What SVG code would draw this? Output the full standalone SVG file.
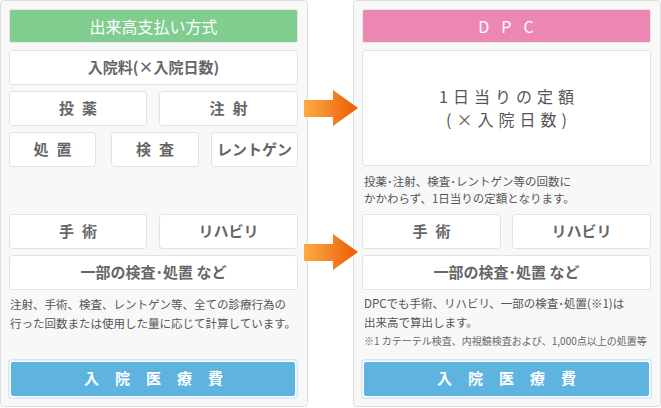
<svg xmlns="http://www.w3.org/2000/svg" width="661" height="408" viewBox="0 0 661 408">
<defs>
<linearGradient id="ag" x1="0" y1="0" x2="1" y2="0">
<stop offset="0" stop-color="#fbab45"/>
<stop offset="1" stop-color="#ee5a05"/>
</linearGradient>
<style>
.panel{fill:#f8f8f8;stroke:#dedede;stroke-width:1}
.box{fill:#fff;stroke:#e2e2e2;stroke-width:1}
.bt{font-family:"Noto Sans CJK JP","Noto Sans",sans-serif;font-size:15px;font-weight:700;fill:#666;text-anchor:middle}
.ht{font-family:"Noto Sans CJK JP","Noto Sans",sans-serif;font-size:16px;fill:#fff;text-anchor:middle}
.ft{font-family:"Noto Sans CJK JP","Noto Sans",sans-serif;font-size:15px;font-weight:700;fill:#fff;text-anchor:middle;letter-spacing:16px}
.st{font-family:"Noto Sans CJK JP","Noto Sans",sans-serif;font-size:11.5px;fill:#555}
.nt{font-family:"Noto Sans CJK JP","Noto Sans",sans-serif;font-size:10px;fill:#666}
.bg{font-family:"Noto Sans CJK JP","Noto Sans",sans-serif;font-size:16px;fill:#555;text-anchor:middle;letter-spacing:5px}
.fo{fill:#fff;stroke:#cfe9fb;stroke-width:1.5}
</style>
</defs>

<g id="left-panel">
<rect class="panel" x="0.5" y="0.5" width="307" height="406" rx="3"/>
</g>
<g id="right-panel">
<rect class="panel" x="353.5" y="0.5" width="307" height="406" rx="3"/>
</g>

<g id="left-header">
<rect x="9.5" y="9.5" width="288" height="33" rx="2" fill="#81cd8f" stroke="#e6e6e6"/>
<text class="ht" x="153.5" y="33" font-size="18">出来高支払い方式</text>
</g>
<g id="nyuinryo">
<rect class="box" x="9.5" y="50.5" width="288" height="34" rx="3"/>
<text class="bt" x="153.5" y="73">入院料(×入院日数)</text>
</g>
<g id="toyaku">
<rect class="box" x="9.5" y="91.5" width="137" height="34" rx="3"/>
<text class="bt" x="82" y="114" letter-spacing="8">投薬</text>
</g>
<g id="chusha">
<rect class="box" x="159.5" y="91.5" width="138" height="34" rx="3"/>
<text class="bt" x="232.5" y="114" letter-spacing="8">注射</text>
</g>
<g id="shochi">
<rect class="box" x="9.5" y="132.5" width="86" height="34" rx="3"/>
<text class="bt" x="56.5" y="155" letter-spacing="8">処置</text>
</g>
<g id="kensa">
<rect class="box" x="111.5" y="132.5" width="87" height="34" rx="3"/>
<text class="bt" x="159" y="155" letter-spacing="8">検査</text>
</g>
<g id="rentogen">
<rect class="box" x="211.5" y="132.5" width="86" height="34" rx="3"/>
<text class="bt" x="254.5" y="155" font-weight="400" fill="#555">レントゲン</text>
</g>
<g id="shujutsu-l">
<rect class="box" x="9.5" y="214.5" width="137" height="34" rx="3"/>
<text class="bt" x="82" y="237" letter-spacing="8">手術</text>
</g>
<g id="reha-l">
<rect class="box" x="159.5" y="214.5" width="138" height="34" rx="3"/>
<text class="bt" x="228.5" y="237" font-weight="400" fill="#555">リハビリ</text>
</g>
<g id="ichibu-l">
<rect class="box" x="9.5" y="255.5" width="288" height="34" rx="3"/>
<text class="bt" x="153.5" y="278">一部の検査･処置 など</text>
</g>
<g id="left-note">
<text class="st" x="10" y="309">注射、手術、検査、レントゲン等、全ての診療行為の</text>
<text class="st" x="10" y="328">行った回数または使用した量に応じて計算しています。</text>
</g>
<g id="left-footer">
<rect class="fo" x="8.75" y="359.75" width="288.5" height="38.5" rx="3"/>
<rect x="11" y="362" width="284" height="34" rx="2" fill="#5fb3df"/>
<text class="ft" x="161.5" y="384">入院医療費</text>
</g>

<g id="right-header">
<rect x="362.5" y="9.5" width="288" height="33" rx="2" fill="#ec87b4" stroke="#e6e6e6"/>
<text class="ht" x="512" y="33" letter-spacing="12">DPC</text>
</g>
<g id="teigaku">
<rect class="box" x="362.5" y="50.5" width="288" height="115" rx="3"/>
<text class="bg" x="509" y="103">1日当りの定額</text>
<text class="bg" x="509" y="126">(×入院日数)</text>
</g>
<g id="right-note1">
<text class="st" x="364" y="186">投薬･注射、検査･レントゲン等の回数に</text>
<text class="st" x="364" y="203">かかわらず、1日当りの定額となります。</text>
</g>
<g id="shujutsu-r">
<rect class="box" x="362.5" y="214.5" width="138" height="34" rx="3"/>
<text class="bt" x="435.5" y="237" letter-spacing="8">手術</text>
</g>
<g id="reha-r">
<rect class="box" x="512.5" y="214.5" width="138" height="34" rx="3"/>
<text class="bt" x="581.5" y="237" font-weight="400" fill="#555">リハビリ</text>
</g>
<g id="ichibu-r">
<rect class="box" x="362.5" y="255.5" width="288" height="34" rx="3"/>
<text class="bt" x="506.5" y="278">一部の検査･処置 など</text>
</g>
<g id="right-note2">
<text class="st" x="364" y="308">DPCでも手術、リハビリ、一部の検査･処置(※1)は</text>
<text class="st" x="364" y="327">出来高で算出します。</text>
<text class="nt" x="364" y="345">※1 カテーテル検査、内視鏡検査および、1,000点以上の処置等</text>
</g>
<g id="right-footer">
<rect class="fo" x="361.75" y="359.75" width="289.5" height="38.5" rx="3"/>
<rect x="364" y="362" width="285" height="34" rx="2" fill="#5fb3df"/>
<text class="ft" x="514.5" y="384">入院医療費</text>
</g>

<g id="connectors">
<polygon points="304,100 333,100 333,90 358,108 333,126 333,117 304,117" fill="url(#ag)"/>
<polygon points="304,244 333,244 333,234 358,252 333,270 333,261 304,261" fill="url(#ag)"/>
</g>
</svg>
